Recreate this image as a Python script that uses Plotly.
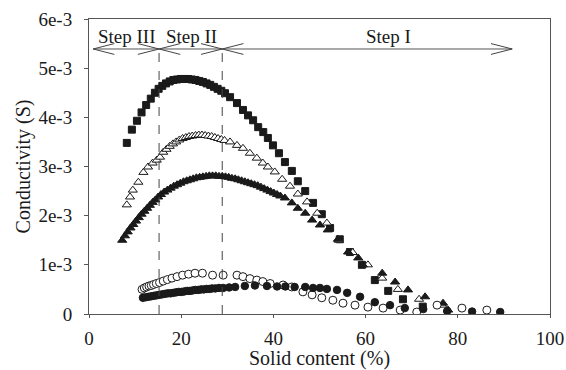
import plotly.graph_objects as go

# ---- data (x: solid content %, y: conductivity in units of 1e-3 S) ----
sq_x = [8.2, 9.3, 10.4, 11.4, 12.4, 13.4, 14.3, 15.1, 15.9, 16.7, 17.5, 18.3, 19.1, 19.9, 20.7, 21.5, 22.3, 23.1,
        23.9, 24.7, 25.5, 26.3, 27.1, 27.9, 28.7, 29.5, 30.6, 32.1, 33.4, 34.5, 35.6, 36.7, 37.8, 38.8, 39.9, 41.2,
        42.5, 44.0, 45.3, 46.9, 48.6, 50.5, 52.3, 54.4, 56.6, 59.2, 62.0, 64.9, 68.1, 72.4]
sq_y = [3.48, 3.75, 3.93, 4.10, 4.25, 4.38, 4.50, 4.58, 4.64, 4.69, 4.73, 4.76, 4.77, 4.78, 4.78, 4.78, 4.77, 4.76,
        4.74, 4.72, 4.69, 4.66, 4.62, 4.58, 4.54, 4.49, 4.41, 4.29, 4.15, 4.04, 3.94, 3.80, 3.70, 3.58, 3.43, 3.27,
        3.09, 2.91, 2.70, 2.50, 2.26, 2.03, 1.75, 1.52, 1.26, 1.00, 0.69, 0.47, 0.30, 0.15]

otri_x = [8.2, 8.9, 9.5, 10.7, 11.8, 12.8, 13.8, 14.7, 15.4, 16.1, 16.8, 17.5, 18.2, 18.9, 19.6, 20.3, 21.0, 21.7,
          22.4, 23.1, 23.8, 24.5, 25.2, 25.9, 26.6, 27.3, 28.0, 28.7, 29.4, 30.6, 32.1, 33.4, 34.9, 36.4, 37.7, 38.8,
          40.3, 41.9, 43.6, 45.3, 47.3, 49.5, 51.6, 54.2, 57.2, 60.5, 63.6, 67.0, 71.6, 76.6]
otri_y = [2.22, 2.38, 2.52, 2.68, 2.88, 2.99, 3.07, 3.13, 3.19, 3.29, 3.35, 3.41, 3.46, 3.50, 3.54, 3.57, 3.59, 3.61,
          3.62, 3.63, 3.64, 3.64, 3.63, 3.62, 3.61, 3.59, 3.57, 3.55, 3.53, 3.50, 3.43, 3.37, 3.27, 3.17, 3.07, 2.99,
          2.89, 2.74, 2.60, 2.44, 2.28, 2.05, 1.85, 1.50, 1.25, 1.00, 0.73, 0.50, 0.30, 0.18]

ftri_x = [7.2, 7.8, 8.4, 9.0, 9.6, 10.2, 10.8, 11.4, 12.0, 12.6, 13.2, 13.8, 14.4, 15.0, 15.6, 16.3, 17.0, 17.7,
          18.4, 19.1, 19.8, 20.5, 21.2, 21.9, 22.6, 23.3, 24.0, 24.7, 25.4, 26.1, 26.8, 27.5, 28.2, 28.9, 29.6, 30.3,
          31.0, 31.7, 32.4, 33.1, 33.8, 34.5, 35.2, 35.9, 36.6, 37.3, 38.0, 38.7, 39.4, 40.1, 40.8, 41.5, 42.5, 44.0,
          45.3, 46.9, 48.4, 50.1, 51.8, 54.0, 56.2, 58.4, 59.4, 63.6, 66.4, 69.2, 72.9, 76.8, 77.9]
ftri_y = [1.50, 1.59, 1.67, 1.75, 1.82, 1.89, 1.96, 2.03, 2.09, 2.15, 2.21, 2.27, 2.32, 2.38, 2.43, 2.48, 2.52, 2.56,
          2.60, 2.63, 2.66, 2.69, 2.71, 2.73, 2.75, 2.77, 2.78, 2.79, 2.80, 2.81, 2.81, 2.81, 2.80, 2.80, 2.79, 2.78,
          2.76, 2.75, 2.73, 2.71, 2.69, 2.67, 2.65, 2.63, 2.61, 2.58, 2.55, 2.52, 2.49, 2.46, 2.43, 2.40, 2.36, 2.26,
          2.15, 2.05, 1.91, 1.81, 1.71, 1.52, 1.26, 1.14, 1.00, 0.83, 0.65, 0.49, 0.35, 0.22, 0.08]

ocir_x = [11.5, 12.0, 12.5, 13.0, 13.5, 14.0, 14.6, 15.3, 16.1, 17.0, 18.0, 19.1, 20.3, 21.6, 23.0, 24.6, 26.8, 29.1,
          32.1, 33.4, 34.9, 36.4, 37.7, 39.3, 42.1, 44.0, 46.4, 48.4, 50.5, 52.9, 55.1, 57.7, 60.5, 63.8, 67.5, 71.1,
          75.5, 80.9, 86.3]
ocir_y = [0.50, 0.53, 0.55, 0.57, 0.58, 0.60, 0.62, 0.64, 0.67, 0.70, 0.73, 0.76, 0.79, 0.81, 0.83, 0.83, 0.79, 0.79,
          0.79, 0.76, 0.72, 0.69, 0.66, 0.62, 0.59, 0.55, 0.45, 0.39, 0.33, 0.28, 0.22, 0.18, 0.14, 0.12, 0.08, 0.04,
          0.18, 0.12, 0.08]

fcir_x = [11.7, 12.3, 12.9, 13.5, 14.1, 14.7, 15.3, 15.9, 16.5, 17.1, 17.7, 18.3, 18.9, 19.5, 20.1, 20.7, 21.3, 21.9,
          22.5, 23.1, 23.7, 24.3, 24.9, 25.5, 26.1, 26.7, 27.4, 28.2, 29.1, 30.4, 31.7, 33.8, 36.0, 38.6, 40.8, 42.6,
          44.6, 46.9, 48.6, 50.1, 51.6, 53.8, 56.0, 58.8, 62.0, 65.3, 68.5, 72.5, 77.7, 83.1, 89.2]
fcir_y = [0.33, 0.34, 0.35, 0.36, 0.37, 0.38, 0.39, 0.40, 0.41, 0.42, 0.42, 0.43, 0.44, 0.45, 0.45, 0.46, 0.47, 0.47,
          0.48, 0.49, 0.49, 0.50, 0.50, 0.51, 0.51, 0.52, 0.52, 0.53, 0.53, 0.54, 0.55, 0.57, 0.58, 0.57, 0.56, 0.56,
          0.55, 0.55, 0.53, 0.53, 0.51, 0.49, 0.43, 0.35, 0.24, 0.18, 0.12, 0.10, 0.06, 0.05, 0.04]

x_ticks = [0, 20, 40, 60, 80, 100]
y_ticks = [0, 1, 2, 3, 4, 5, 6]
y_ticktext = ["0", "1e-3", "2e-3", "3e-3", "4e-3", "5e-3", "6e-3"]

step_bounds = [0.9, 15.2, 28.9, 91.8]
step_labels = ["Step III", "Step II", "Step I"]
step_label_x = [8.3, 22.3, 65.0]
arrow_y = 5.39
label_y = 5.64

FONT = "Liberation Serif"
INK = "#1a1a1a"

fig = go.Figure()

def add(x, y, symbol, size, fill):
    fig.add_trace(go.Scatter(
        x=x, y=y, mode="markers", showlegend=False,
        marker=dict(symbol=symbol, size=size, color=fill,
                    line=dict(color=INK, width=1))))

add(sq_x, sq_y, "square", 7, INK)
add(otri_x, otri_y, "triangle-up", 8, "white")
add(ftri_x, ftri_y, "triangle-up", 8, INK)
add(ocir_x, ocir_y, "circle", 8, "white")
add(fcir_x, fcir_y, "circle", 7.5, INK)

shapes = []
for b in step_bounds[1:3]:
    shapes.append(dict(type="line", xref="x", yref="y", x0=b, x1=b, y0=0, y1=arrow_y,
                       line=dict(color="#444", width=1, dash="dash")))
shapes.append(dict(type="line", xref="x", yref="y", x0=step_bounds[0], x1=step_bounds[-1],
                   y0=arrow_y, y1=arrow_y, line=dict(color="#555", width=1)))
dx, dy = 4.6, 0.11
for a, b in zip(step_bounds[:-1], step_bounds[1:]):
    for s in (1, -1):
        shapes.append(dict(type="line", xref="x", yref="y", x0=a, y0=arrow_y, x1=a + dx, y1=arrow_y + s * dy,
                           line=dict(color="#444", width=1)))
        shapes.append(dict(type="line", xref="x", yref="y", x0=b, y0=arrow_y, x1=b - dx, y1=arrow_y + s * dy,
                           line=dict(color="#444", width=1)))

annotations = [dict(x=lx, y=label_y, xref="x", yref="y", text=t, showarrow=False,
                    font=dict(family=FONT, size=19, color=INK))
               for t, lx in zip(step_labels, step_label_x)]

fig.update_layout(
    width=566, height=370,
    margin=dict(l=89, r=16, t=19, b=56),
    paper_bgcolor="white", plot_bgcolor="white",
    font=dict(family=FONT, size=19, color=INK),
    shapes=shapes, annotations=annotations,
    xaxis=dict(range=[0, 100], tickvals=x_ticks, showgrid=False, zeroline=False, automargin=False,
               showline=True, mirror=True, linecolor="#555", linewidth=1,
               ticks="outside", ticklen=3, tickcolor="#555", ticklabelstandoff=4,
               title=dict(text="Solid content (%)", font=dict(family=FONT, size=20), standoff=6),
               tickfont=dict(family=FONT, size=19)),
    yaxis=dict(range=[0, 6], tickvals=y_ticks, ticktext=y_ticktext, showgrid=False, zeroline=False, automargin=False,
               showline=True, mirror=True, linecolor="#555", linewidth=1,
               ticks="outside", ticklen=4, tickcolor="#555", ticklabelstandoff=8,
               title=dict(text="Conductivity (S)", font=dict(family=FONT, size=20), standoff=2),
               tickfont=dict(family=FONT, size=19)),
)

fig.write_html("out.html")
